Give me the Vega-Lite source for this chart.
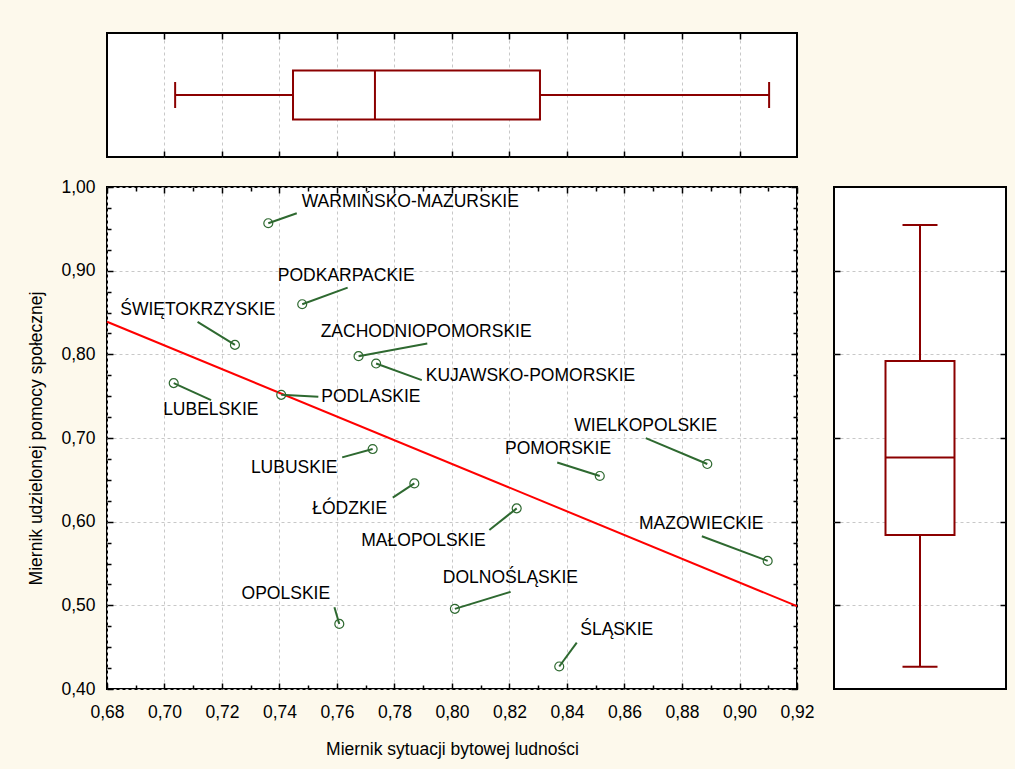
{
  "$schema": "https://vega.github.io/schema/vega-lite/v6.json",
  "background": "#FDF9EC",
  "padding": {"left": 26, "top": 31, "right": 8, "bottom": 10},
  "bounds": "flush",
  "spacing": 30,
  "datasets": {
    "regions": [
      {"name": "WARMIŃSKO-MAZURSKIE", "x": 0.7361, "y": 0.9567, "ex": 0.7460, "ey": 0.9686, "lx": 0.7855, "ly": 0.9822},
      {"name": "PODKARPACKIE", "x": 0.7479, "y": 0.8599, "ex": 0.7637, "ey": 0.8798, "lx": 0.7632, "ly": 0.8935},
      {"name": "ŚWIĘTOKRZYSKIE", "x": 0.7245, "y": 0.8113, "ex": 0.7115, "ey": 0.8388, "lx": 0.7116, "ly": 0.8532},
      {"name": "ZACHODNIOPOMORSKIE", "x": 0.7675, "y": 0.7978, "ex": 0.7914, "ey": 0.8129, "lx": 0.7910, "ly": 0.8261},
      {"name": "KUJAWSKO-POMORSKIE", "x": 0.7736, "y": 0.7890, "ex": 0.7895, "ey": 0.7692, "lx": 0.8273, "ly": 0.7738},
      {"name": "LUBELSKIE", "x": 0.7032, "y": 0.7656, "ex": 0.7162, "ey": 0.7453, "lx": 0.7161, "ly": 0.7335},
      {"name": "PODLASKIE", "x": 0.7406, "y": 0.7516, "ex": 0.7535, "ey": 0.7493, "lx": 0.7718, "ly": 0.7493},
      {"name": "LUBUSKIE", "x": 0.7724, "y": 0.6868, "ex": 0.7618, "ey": 0.6768, "lx": 0.7451, "ly": 0.6637},
      {"name": "ŁÓDZKIE", "x": 0.7869, "y": 0.6457, "ex": 0.7794, "ey": 0.6287, "lx": 0.7644, "ly": 0.6156},
      {"name": "MAŁOPOLSKIE", "x": 0.8225, "y": 0.6159, "ex": 0.8130, "ey": 0.5901, "lx": 0.7901, "ly": 0.5768},
      {"name": "POMORSKIE", "x": 0.8514, "y": 0.6546, "ex": 0.8366, "ey": 0.6708, "lx": 0.8369, "ly": 0.6864},
      {"name": "WIELKOPOLSKIE", "x": 0.8888, "y": 0.6689, "ex": 0.8674, "ey": 0.6999, "lx": 0.8674, "ly": 0.7147},
      {"name": "MAZOWIECKIE", "x": 0.9098, "y": 0.5531, "ex": 0.8869, "ey": 0.5825, "lx": 0.8867, "ly": 0.5969},
      {"name": "DOLNOŚLĄSKIE", "x": 0.8010, "y": 0.4958, "ex": 0.8204, "ey": 0.5161, "lx": 0.8203, "ly": 0.5323},
      {"name": "OPOLSKIE", "x": 0.7608, "y": 0.4778, "ex": 0.7591, "ey": 0.4977, "lx": 0.7422, "ly": 0.5135},
      {"name": "ŚLĄSKIE", "x": 0.8373, "y": 0.4269, "ex": 0.8434, "ey": 0.4555, "lx": 0.8573, "ly": 0.4702}
    ],
    "fit": [{"x1": 0.68, "y1": 0.839, "x2": 0.92, "y2": 0.499}],
    "boxX": [{"var": "x", "min": 0.7037, "q1": 0.7447, "median": 0.7732, "q3": 0.8306, "max": 0.9103}],
    "boxY": [{"var": "y", "min": 0.4265, "q1": 0.584, "median": 0.6768, "q3": 0.7919, "max": 0.9546}]
  },
  "vconcat": [
    {
      "width": 690,
      "height": 124,
      "data": {"name": "boxX"},
      "resolve": {"axis": {"x": "independent"}},
      "layer": [
        {
          "mark": {"type": "rule", "color": "#8B0000", "strokeWidth": 2},
          "encoding": {
            "x": {"field": "min", "type": "quantitative",
                  "scale": {"domain": [0.68, 0.92], "nice": false, "zero": false},
                  "axis": {"orient": "bottom", "values": [0.70, 0.72, 0.74, 0.76, 0.78, 0.80, 0.82, 0.84, 0.86, 0.88, 0.90], "grid": true, "labels": false, "tickSize": -6, "title": null}},
            "x2": {"field": "max"},
            "y": {"field": "var", "type": "nominal", "scale": {"type": "band", "paddingInner": 0, "paddingOuter": 0.7653}, "axis": null}
          }
        },
        {
          "mark": {"type": "bar", "fill": "#FFFFFF", "stroke": "#8B0000", "strokeWidth": 2},
          "encoding": {
            "x": {"field": "q1", "type": "quantitative",
                  "scale": {"domain": [0.68, 0.92], "nice": false, "zero": false},
                  "axis": {"orient": "top", "values": [0.70, 0.72, 0.74, 0.76, 0.78, 0.80, 0.82, 0.84, 0.86, 0.88, 0.90], "grid": false, "labels": false, "tickSize": -6, "title": null}},
            "x2": {"field": "q3"},
            "y": {"field": "var", "type": "nominal", "axis": null}
          }
        },
        {
          "mark": {"type": "tick", "color": "#8B0000", "size": 49, "thickness": 2, "opacity": 1},
          "encoding": {
            "x": {"field": "median", "type": "quantitative", "axis": null},
            "y": {"field": "var", "type": "nominal", "axis": null}
          }
        },
        {
          "mark": {"type": "tick", "color": "#8B0000", "size": 26, "thickness": 2, "opacity": 1},
          "encoding": {
            "x": {"field": "min", "type": "quantitative", "axis": null},
            "y": {"field": "var", "type": "nominal", "axis": null}
          }
        },
        {
          "mark": {"type": "tick", "color": "#8B0000", "size": 26, "thickness": 2, "opacity": 1},
          "encoding": {
            "x": {"field": "max", "type": "quantitative", "axis": null},
            "y": {"field": "var", "type": "nominal", "axis": null}
          }
        }
      ]
    },
    {
      "hconcat": [
        {
          "width": 690,
          "height": 502,
          "resolve": {"axis": {"x": "independent", "y": "independent"}},
          "layer": [
            {
              "data": {"name": "fit"},
              "mark": {"type": "rule", "color": "#FF0000", "strokeWidth": 2},
              "encoding": {
                "x": {"field": "x1", "type": "quantitative",
                      "scale": {"domain": [0.68, 0.92], "nice": false, "zero": false},
                      "axis": {"orient": "bottom", "values": [0.68, 0.70, 0.72, 0.74, 0.76, 0.78, 0.80, 0.82, 0.84, 0.86, 0.88, 0.90, 0.92],
                               "grid": true, "labels": true, "labelFlush": false, "labelOverlap": false,
                               "labelExpr": "replace(format(datum.value, '.2f'), '.', ',')",
                               "tickSize": -6, "labelPadding": 20,
                               "title": "Miernik sytuacji bytowej ludności", "titlePadding": 20}},
                "x2": {"field": "x2"},
                "y": {"field": "y1", "type": "quantitative",
                      "scale": {"domain": [0.4, 1.0], "nice": false, "zero": false},
                      "axis": {"orient": "left", "values": [0.4, 0.5, 0.6, 0.7, 0.8, 0.9, 1.0],
                               "grid": true, "labels": true, "labelFlush": false, "labelOverlap": false,
                               "labelExpr": "replace(format(datum.value, '.2f'), '.', ',')",
                               "tickSize": -6, "labelPadding": 18,
                               "title": "Miernik udzielonej pomocy społecznej", "titlePadding": 15}},
                "y2": {"field": "y2"}
              }
            },
            {
              "data": {"name": "regions"},
              "mark": {"type": "rule", "color": "#2E6930", "strokeWidth": 2},
              "encoding": {
                "x": {"field": "x", "type": "quantitative",
                      "scale": {"domain": [0.68, 0.92], "nice": false, "zero": false},
                      "axis": {"orient": "bottom", "values": [0.69, 0.71, 0.73, 0.75, 0.77, 0.79, 0.81, 0.83, 0.85, 0.87, 0.89, 0.91],
                               "grid": false, "labels": false, "tickSize": -4, "title": null}},
                "x2": {"field": "ex"},
                "y": {"field": "y", "type": "quantitative",
                      "scale": {"domain": [0.4, 1.0], "nice": false, "zero": false},
                      "axis": {"orient": "left", "values": [0.425, 0.45, 0.475, 0.525, 0.55, 0.575, 0.625, 0.65, 0.675, 0.725, 0.75, 0.775, 0.825, 0.85, 0.875, 0.925, 0.95, 0.975],
                               "grid": false, "labels": false, "tickSize": -4, "title": null}},
                "y2": {"field": "ey"}
              }
            },
            {
              "data": {"name": "regions"},
              "mark": {"type": "point", "shape": "circle", "filled": false, "stroke": "#2E6930", "strokeWidth": 1.2, "size": 80, "opacity": 1},
              "encoding": {
                "x": {"field": "x", "type": "quantitative",
                      "scale": {"domain": [0.68, 0.92], "nice": false, "zero": false},
                      "axis": {"orient": "top", "values": [0.68, 0.70, 0.72, 0.74, 0.76, 0.78, 0.80, 0.82, 0.84, 0.86, 0.88, 0.90, 0.92],
                               "grid": false, "labels": false, "tickSize": -6, "title": null}},
                "y": {"field": "y", "type": "quantitative",
                      "scale": {"domain": [0.4, 1.0], "nice": false, "zero": false},
                      "axis": {"orient": "right", "values": [0.4, 0.5, 0.6, 0.7, 0.8, 0.9, 1.0],
                               "grid": false, "labels": false, "tickSize": -6, "title": null}}
              }
            },
            {
              "data": {"name": "regions"},
              "mark": {"type": "text", "fontSize": 17.5, "font": "Liberation Sans", "color": "#000000", "align": "center", "baseline": "middle"},
              "encoding": {
                "x": {"field": "lx", "type": "quantitative",
                      "scale": {"domain": [0.68, 0.92], "nice": false, "zero": false},
                      "axis": {"orient": "top", "values": [0.69, 0.71, 0.73, 0.75, 0.77, 0.79, 0.81, 0.83, 0.85, 0.87, 0.89, 0.91],
                               "grid": false, "labels": false, "tickSize": -4, "title": null}},
                "y": {"field": "ly", "type": "quantitative",
                      "scale": {"domain": [0.4, 1.0], "nice": false, "zero": false},
                      "axis": {"orient": "right", "values": [0.425, 0.45, 0.475, 0.525, 0.55, 0.575, 0.625, 0.65, 0.675, 0.725, 0.75, 0.775, 0.825, 0.85, 0.875, 0.925, 0.95, 0.975],
                               "grid": false, "labels": false, "tickSize": -4, "title": null}},
                "text": {"field": "name", "type": "nominal"}
              }
            }
          ]
        },
        {
          "width": 172,
          "height": 502,
          "data": {"name": "boxY"},
          "resolve": {"axis": {"y": "independent"}},
          "layer": [
            {
              "mark": {"type": "rule", "color": "#8B0000", "strokeWidth": 2},
              "encoding": {
                "y": {"field": "min", "type": "quantitative",
                      "scale": {"domain": [0.4, 1.0], "nice": false, "zero": false},
                      "axis": {"orient": "left", "values": [0.5, 0.6, 0.7, 0.8, 0.9], "grid": true, "labels": false, "tickSize": -6, "title": null}},
                "y2": {"field": "max"},
                "x": {"field": "var", "type": "nominal", "scale": {"type": "band", "paddingInner": 0, "paddingOuter": 0.7464}, "axis": null}
              }
            },
            {
              "mark": {"type": "bar", "fill": "#FFFFFF", "stroke": "#8B0000", "strokeWidth": 2},
              "encoding": {
                "y": {"field": "q1", "type": "quantitative",
                      "scale": {"domain": [0.4, 1.0], "nice": false, "zero": false},
                      "axis": {"orient": "right", "values": [0.5, 0.6, 0.7, 0.8, 0.9], "grid": false, "labels": false, "tickSize": -6, "title": null}},
                "y2": {"field": "q3"},
                "x": {"field": "var", "type": "nominal", "axis": null}
              }
            },
            {
              "mark": {"type": "tick", "color": "#8B0000", "size": 69, "thickness": 2, "opacity": 1},
              "encoding": {
                "y": {"field": "median", "type": "quantitative", "axis": null},
                "x": {"field": "var", "type": "nominal", "axis": null}
              }
            },
            {
              "mark": {"type": "tick", "color": "#8B0000", "size": 35, "thickness": 2, "opacity": 1},
              "encoding": {
                "y": {"field": "min", "type": "quantitative", "axis": null},
                "x": {"field": "var", "type": "nominal", "axis": null}
              }
            },
            {
              "mark": {"type": "tick", "color": "#8B0000", "size": 35, "thickness": 2, "opacity": 1},
              "encoding": {
                "y": {"field": "max", "type": "quantitative", "axis": null},
                "x": {"field": "var", "type": "nominal", "axis": null}
              }
            }
          ]
        }
      ],
      "spacing": 37,
      "bounds": "flush"
    }
  ],
  "config": {
    "font": "Liberation Sans",
    "view": {"stroke": "#000000", "strokeWidth": 2, "fill": "#FFFFFF"},
    "axis": {
      "domain": false,
      "labelFont": "Liberation Sans", "labelFontSize": 17.5, "labelColor": "#000000",
      "titleFont": "Liberation Sans", "titleFontSize": 17.5, "titleFontWeight": "normal", "titleColor": "#000000",
      "gridColor": "#C8C8C8", "gridDash": [3, 3], "gridWidth": 1,
      "tickColor": "#000000", "tickWidth": 1.5
    }
  }
}
